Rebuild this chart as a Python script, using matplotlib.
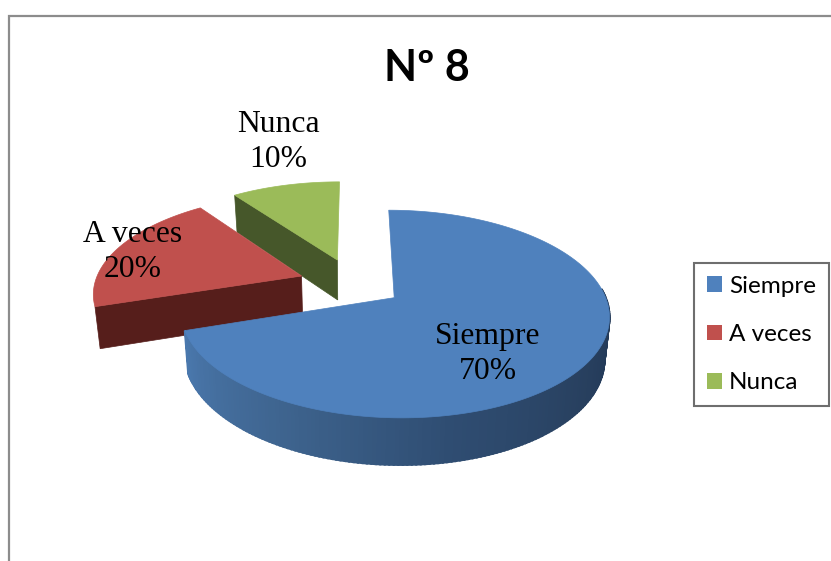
#!/usr/bin/env python
"""Exploded 3D pie (N 8): top faces and sides drawn by hand from the percentages."""
import numpy as np
import matplotlib; matplotlib.use("Agg")
import matplotlib.pyplot as plt
from matplotlib.patches import Patch
from matplotlib.colors import LinearSegmentedColormap

labels = ["Siempre", "A veces", "Nunca"]
values = [70, 20, 10]

top_colors = ["#4F81BD", "#C0504D", "#9BBB59"]
side_colors = ["#2F4F75", "#561E1B", "#46572A"]
explode = [0.235, 0.27, 0.27]

# projection of the pie plane to figure pixels
X0, Y0, RX, RY, K, DEPTH, SHRINK = 354, 284, 207, 97, 0.154, 41, 0.02
blue_side = LinearSegmentedColormap.from_list("s", ["#4A78AD", "#3F6590", "#2F4D72", "#28405F", "#1F3553"])


def project(u, v, low=False):
    s = 1 + K * v
    x = RX * u / s
    y = -RY * v / s
    if low:
        x = x * (1 - SHRINK)
        y = y * (1 - SHRINK) + DEPTH / s
    return X0 + x, Y0 + y


fig = plt.figure(figsize=(8.31, 5.61), dpi=100)
ax = fig.add_axes([0, 0, 1, 1])
ax.set_xlim(0, 831); ax.set_ylim(561, 0); ax.axis("off")

# chart frame, only left and top are in the crop
ax.plot([9, 9, 831], [561, 16, 16], color="#8c8c8c", lw=1.6, solid_joinstyle="miter")

edges = np.cumsum([0] + values) / sum(values) * 2 * np.pi
slices = []
for i in range(len(values)):
    a0, a1 = edges[i], edges[i + 1]
    mid = (a0 + a1) / 2
    slices.append((a0, a1, explode[i] * np.sin(mid), explode[i] * np.cos(mid)))

# back to front: Nunca, A veces, Siempre
for i in [2, 1, 0]:
    a0, a1, cu, cv = slices[i]
    t = np.linspace(a0, a1, 200)
    u, v = cu + np.sin(t), cv + np.cos(t)
    if i == 0:
        # outer wall, shaded strip by strip
        wall = np.linspace(a0 + np.radians(85), a1, 160)
        for n, (p, q) in enumerate(zip(wall[:-1], wall[1:])):
            tt = np.array([p, q])
            xa, ya = project(cu + np.sin(tt), cv + np.cos(tt))
            xb, yb = project(cu + np.sin(tt), cv + np.cos(tt), low=True)
            ax.fill(np.r_[xa, xb[::-1]], np.r_[ya, yb[::-1]],
                    color=blue_side(1 - n / 159), lw=1.5, zorder=3)
    else:
        # cut wall that faces us
        e = np.array([0, 1.0])
        xa, ya = project(cu + e * np.sin(a0), cv + e * np.cos(a0))
        xb, yb = project(cu + e * np.sin(a0), cv + e * np.cos(a0), low=True)
        ax.fill(np.r_[xa, xb[::-1]], np.r_[ya, yb[::-1]], color=side_colors[i], lw=0.5, zorder=1 + (i == 1))
    x, y = project(np.r_[cu, u], np.r_[cv, v])
    ax.fill(x, y, color=top_colors[i], lw=0.5, zorder=4 if i == 0 else 1 + (i == 1))

# data labels
lab_pos = [(488, 354), (133, 252), (278, 142)]
for name, val, (lx, ly) in zip(labels, values, lab_pos):
    ax.text(lx, ly, f"{name}\n{val}%", ha="center", va="center", family="Liberation Serif",
            fontsize=22.8, color="black", linespacing=1.3, zorder=6)

ax.text(427, 68, "Nº 8", ha="center", va="center", family="Lato", fontweight="bold",
        fontsize=31, color="black", zorder=6)

handles = [Patch(facecolor=c, edgecolor="none") for c in top_colors]
leg = ax.legend(handles, labels, loc="upper left", bbox_to_anchor=(694, 263), bbox_transform=ax.transData,
                borderaxespad=0, frameon=True, fancybox=False, framealpha=1, edgecolor="#6e6e6e",
                prop={"family": "Lato", "size": 17.5}, handlelength=0.62, handleheight=0.62,
                handletextpad=0.29, labelspacing=1.12, borderpad=0.53)
leg.get_frame().set_linewidth(1.5)
leg.set_zorder(7)

fig.savefig("out.png", dpi=100)
